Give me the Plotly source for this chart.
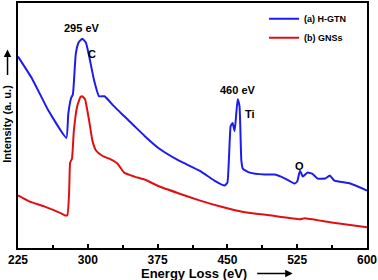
import plotly.graph_objects as go

# Energy loss (eV) and intensity (a.u.)
hgtn_ev = [225, 240, 258, 277, 279, 282, 284, 287, 290, 294, 298, 301.5, 307, 312, 318, 328, 339, 350, 361,
           377, 398, 420, 436, 447, 450, 453.5, 455.6, 457.8, 461, 463, 465, 466.5, 474, 490, 501, 512,
           522, 525, 528, 531, 536, 541, 547, 555, 560, 565, 582, 600]
hgtn_int = [193, 171, 138, 111, 135, 151, 155, 195, 207, 211, 207, 193, 168, 153, 153, 143, 133, 123, 113,
            100, 88, 78, 68, 63, 66, 123, 126, 118, 150, 143, 88, 80, 76, 74, 74, 70,
            65, 67, 78, 72, 76, 75, 70, 70, 73, 68, 65, 58]

gnss_ev = [225, 237, 253, 269, 275, 278, 280, 281, 283, 285, 288.6, 292, 294, 297, 301.5, 305, 309, 315.5,
           323, 332, 339, 350, 361, 377, 398, 420, 441.6, 468.5, 495, 528, 533, 560, 600]
gnss_int = [53, 47, 42, 36, 33, 33, 58, 86, 90, 118, 143, 152, 153, 150, 128, 108, 98, 93,
            90, 85, 76, 72, 69, 62, 55, 48, 42, 36, 33, 29, 30, 26, 21]

x_ticks = [225, 300, 375, 450, 525, 600]

FONT = "Liberation Sans, Arial, sans-serif"

fig = go.Figure()
fig.add_trace(go.Scatter(x=hgtn_ev, y=hgtn_int, mode="lines", name="<b>(a) H-GTN</b>",
                         line=dict(color="#1c1cf0", width=2, shape="spline", smoothing=0.4)))
fig.add_trace(go.Scatter(x=gnss_ev, y=gnss_int, mode="lines", name="<b>(b) GNSs</b>",
                         line=dict(color="#e01010", width=2, shape="spline", smoothing=0.4)))

fig.update_layout(
    width=378, height=280,
    margin=dict(l=18, r=11, t=1, b=32),
    paper_bgcolor="white", plot_bgcolor="white",
    font=dict(family=FONT, color="black"),
    showlegend=True,
    legend=dict(x=0.705, y=0.995, xanchor="left", yanchor="top", bgcolor="rgba(0,0,0,0)",
                font=dict(size=9, family=FONT), tracegroupgap=0, itemwidth=30),
    xaxis=dict(range=[225, 600], tickvals=x_ticks, ticktext=[f"<b>{v}</b>" for v in x_ticks],
               tickfont=dict(size=12, family=FONT), ticks="inside", ticklen=4, tickcolor="black",
               tickwidth=1.5,
               minor=dict(dtick=37.5, tick0=225, ticks="inside", ticklen=3, tickcolor="black"),
               showline=True, linecolor="black", linewidth=1.5, mirror=True, showgrid=False, zeroline=False),
    yaxis=dict(range=[0, 247], showticklabels=False, ticks="", showline=True, linecolor="black",
               linewidth=1.5, mirror=True, showgrid=False, zeroline=False),
)

ann = [
    dict(x=294, y=222, text="<b>295 eV</b>"),
    dict(x=305, y=196, text="<b>C</b>"),
    dict(x=461, y=159, text="<b>460 eV</b>"),
    dict(x=474, y=135, text="<b>Ti</b>"),
    dict(x=528, y=83, text="<b>O</b>"),
]
for a in ann:
    fig.add_annotation(x=a["x"], y=a["y"], xref="x", yref="y", text=a["text"], showarrow=False,
                       font=dict(size=11, family=FONT, color="black"))

# axis titles
fig.add_annotation(x=0.503, y=-0.106, xref="paper", yref="paper", yanchor="middle", xanchor="center",
                   text="<b>Energy Loss (eV)</b>", showarrow=False, font=dict(size=13, family=FONT))
fig.add_annotation(x=0.787, y=-0.104, xref="paper", yref="paper", ax=-37, ay=0,
                   text="", showarrow=True, arrowhead=2, arrowsize=1, arrowwidth=1.5, arrowcolor="black")
fig.add_annotation(x=-0.03, y=0.505, xref="paper", yref="paper", xanchor="center", yanchor="middle",
                   text="<b>Intensity (a. u.)</b>", textangle=-90, showarrow=False,
                   font=dict(size=11, family=FONT))
fig.add_annotation(x=-0.03, y=0.81, xref="paper", yref="paper", ax=0, ay=27,
                   text="", showarrow=True, arrowhead=2, arrowsize=1, arrowwidth=1.5, arrowcolor="black")

fig.write_html("out.html", post_script="document.body.style.margin='0px';",
               config={"displayModeBar": False})
